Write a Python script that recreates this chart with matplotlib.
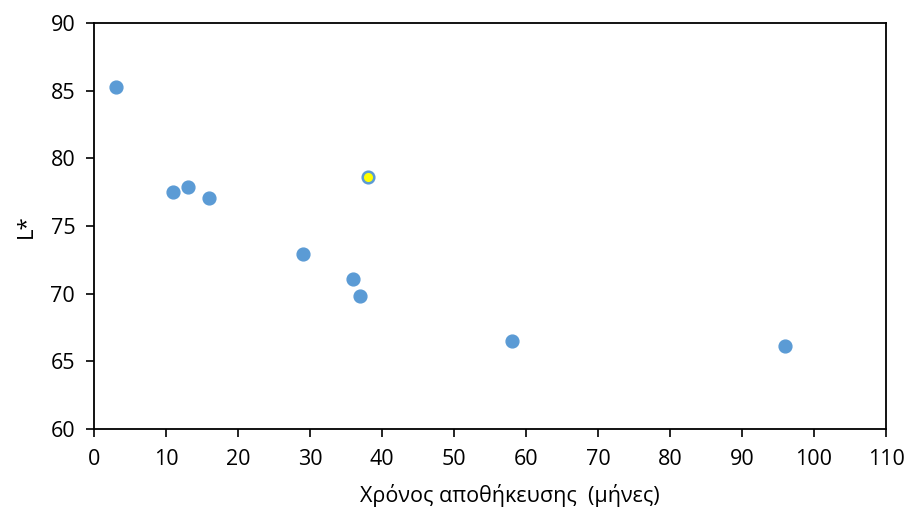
import matplotlib.pyplot as plt

# Χρόνος αποθήκευσης (μήνες) και L*
months = [3, 11, 13, 16, 29, 36, 37, 58, 96]
lstar = [85.3, 77.5, 77.9, 77.1, 72.9, 71.05, 69.8, 66.5, 66.1]

# το επισημασμένο δείγμα
hl_months = [38]
hl_lstar = [78.6]

plt.rcParams['font.family'] = ['Open Sans', 'DejaVu Sans']

fig = plt.figure(figsize=(9.08, 5.18), dpi=100)
ax = fig.add_axes([0.1035, 0.1718, 0.8723, 0.7838])

ax.scatter(months, lstar, s=85, color='#5B9BD5', zorder=3)
ax.scatter(hl_months, hl_lstar, s=70, color='#FFFF00', edgecolors='#5B9BD5',
           linewidths=1.8, zorder=4)

ax.set_xlim(0, 110)
ax.set_ylim(60, 90)
ax.set_xticks(range(0, 111, 10))
ax.set_yticks(range(60, 91, 5))
ax.tick_params(labelsize=15.5, length=5.5, width=1.2, direction='out')
ax.tick_params(axis='x', pad=9)
ax.tick_params(axis='y', pad=8)
for sp in ax.spines.values():
    sp.set_linewidth(1.3)

ax.set_xlabel('Χρόνος αποθήκευσης  (μήνες)', fontsize=15.5)
ax.xaxis.set_label_coords(0.525, -0.135)
ax.set_ylabel('L*', fontsize=16, labelpad=10)

fig.savefig('out.png', dpi=100)
